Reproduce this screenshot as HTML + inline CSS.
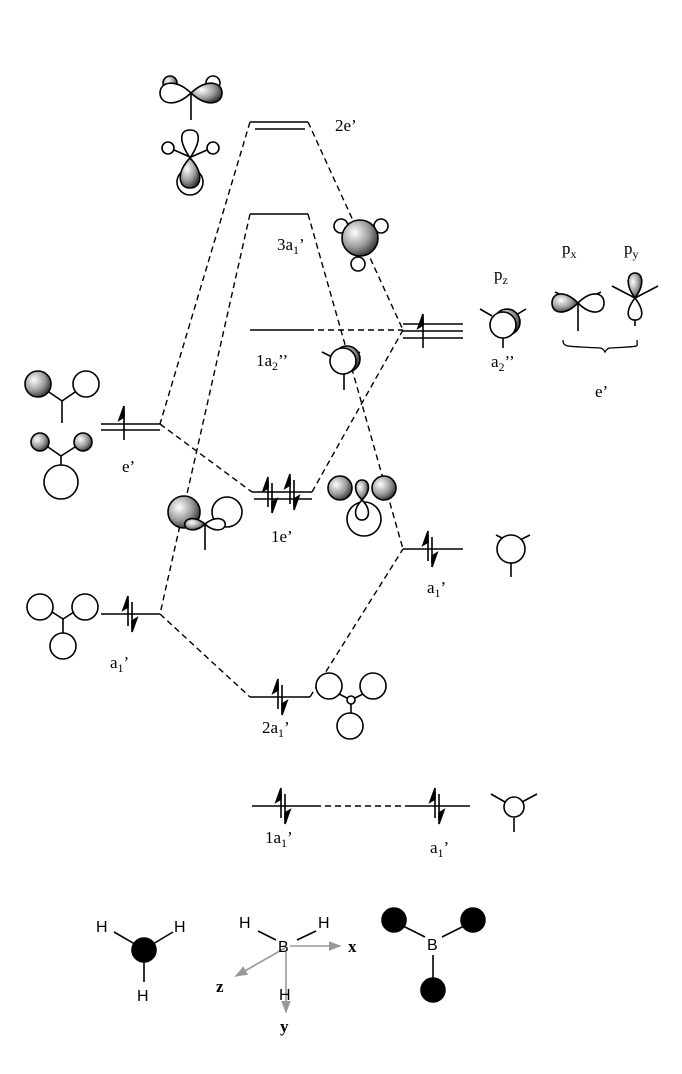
<!DOCTYPE html>
<html><head><meta charset="utf-8"><style>
html,body{margin:0;padding:0;background:#fff}
svg{display:block}
text{font-family:"Liberation Serif",serif;font-size:17px;fill:#000}
.s{font-family:"Liberation Sans",sans-serif;font-size:16px}
</style></head><body>
<svg width="682" height="1074" viewBox="0 0 682 1074" xmlns="http://www.w3.org/2000/svg">
<defs>
<radialGradient id="g" cx="0.35" cy="0.35" r="0.7">
<stop offset="0" stop-color="#fff"/><stop offset="0.6" stop-color="#999"/><stop offset="1" stop-color="#333"/>
</radialGradient>
<marker id="ar" markerWidth="8" markerHeight="8" refX="7" refY="4" orient="auto"><path d="M0,1 L8,4 L0,7 Z" fill="#999"/></marker>
<g id="pr" stroke="#000" stroke-width="1.6" fill="#000"><line x1="0" y1="-14" x2="0" y2="12"/><path d="M0,-18 L-5,-4 L0,-7 Z"/><line x1="4" y1="-12" x2="4" y2="14"/><path d="M4,18 L9,4 L4,7 Z"/></g>
</defs>
<g stroke="#000" stroke-width="1.6" fill="none">
<line x1="250" y1="122" x2="308" y2="122"/><line x1="255" y1="129" x2="305" y2="129"/>
<line x1="250" y1="214" x2="308" y2="214"/>
<line x1="250" y1="330" x2="308" y2="330"/>
<line x1="403" y1="324" x2="463" y2="324"/><line x1="403" y1="331" x2="463" y2="331"/><line x1="403" y1="338" x2="463" y2="338"/>
<line x1="101" y1="424" x2="160" y2="424"/><line x1="101" y1="430" x2="160" y2="430"/>
<line x1="252" y1="492" x2="312" y2="492"/><line x1="254" y1="499" x2="312" y2="499"/>
<line x1="403" y1="549" x2="463" y2="549"/>
<line x1="101" y1="614" x2="160" y2="614"/>
<line x1="250" y1="697" x2="310" y2="697"/>
<line x1="252" y1="806" x2="315" y2="806"/>
<line x1="410" y1="806" x2="470" y2="806"/>
</g>
<g stroke="#000" stroke-width="1.4" fill="none" stroke-dasharray="6,4">
<line x1="250" y1="122" x2="160" y2="424"/>
<line x1="308" y1="122" x2="403" y2="330"/>
<line x1="250" y1="214" x2="160" y2="614"/>
<line x1="308" y1="214" x2="403" y2="549"/>
<line x1="308" y1="330" x2="403" y2="330"/>
<line x1="160" y1="424" x2="252" y2="492"/>
<line x1="312" y1="492" x2="403" y2="330"/>
<line x1="160" y1="614" x2="250" y2="697"/>
<line x1="310" y1="697" x2="403" y2="549"/>
<line x1="315" y1="806" x2="410" y2="806"/>
</g>
<g stroke="#000" stroke-width="1.6" fill="#000">
<line x1="423" y1="318" x2="423" y2="348"/><path d="M423,314 L418,328 L423,325 Z"/>
<line x1="124" y1="410" x2="124" y2="440"/><path d="M124,406 L119,420 L124,417 Z"/>
</g>
<use href="#pr" x="268" y="495"/><use href="#pr" x="290" y="492"/>
<use href="#pr" x="428" y="549"/><use href="#pr" x="128" y="614"/>
<use href="#pr" x="278" y="697"/><use href="#pr" x="281" y="806"/><use href="#pr" x="435" y="806"/>
<text x="335" y="131">2e’</text>
<text x="277" y="250">3a<tspan font-size="12" dy="4">1</tspan><tspan dy="-4">’</tspan></text>
<text x="256" y="366">1a<tspan font-size="12" dy="4">2</tspan><tspan dy="-4">’’</tspan></text>
<text x="122" y="472">e’</text>
<text x="271" y="542">1e’</text>
<text x="427" y="593">a<tspan font-size="12" dy="4">1</tspan><tspan dy="-4">’</tspan></text>
<text x="110" y="668">a<tspan font-size="12" dy="4">1</tspan><tspan dy="-4">’</tspan></text>
<text x="262" y="733">2a<tspan font-size="12" dy="4">1</tspan><tspan dy="-4">’</tspan></text>
<text x="265" y="843">1a<tspan font-size="12" dy="4">1</tspan><tspan dy="-4">’</tspan></text>
<text x="430" y="853">a<tspan font-size="12" dy="4">1</tspan><tspan dy="-4">’</tspan></text>
<text x="494" y="280">p<tspan font-size="12" dy="4">z</tspan></text>
<text x="562" y="254">p<tspan font-size="12" dy="4">x</tspan></text>
<text x="624" y="254">p<tspan font-size="12" dy="4">y</tspan></text>
<text x="491" y="367">a<tspan font-size="12" dy="4">2</tspan><tspan dy="-4">’’</tspan></text>
<text x="595" y="397">e’</text>
<g stroke="#000" stroke-width="1.6">
<circle cx="170" cy="83" r="7" fill="url(#g)"/><circle cx="213" cy="83" r="7" fill="#fff"/>
<path d="M191,93 C175,78 160,82 160,93 C160,104 175,108 191,93 Z" fill="#fff"/>
<path d="M191,93 C207,78 222,82 222,93 C222,104 207,108 191,93 Z" fill="url(#g)"/>
<line x1="191" y1="93" x2="191" y2="120"/>
<circle cx="168" cy="148" r="6" fill="#fff"/><circle cx="213" cy="148" r="6" fill="#fff"/>
<line x1="174" y1="150" x2="190" y2="157"/><line x1="207" y1="150" x2="191" y2="157"/>
<circle cx="190" cy="182" r="13" fill="#fff"/>
<path d="M190,158 C178,140 180,130 190,130 C200,130 202,140 190,158 Z" fill="#fff"/>
<path d="M190,158 C176,172 178,188 190,188 C202,188 204,172 190,158 Z" fill="url(#g)"/>
<circle cx="341" cy="226" r="7" fill="#fff"/><circle cx="381" cy="226" r="7" fill="#fff"/><circle cx="358" cy="264" r="7" fill="#fff"/>
<circle cx="360" cy="238" r="18" fill="url(#g)"/>
<line x1="322" y1="352" x2="332" y2="357"/><line x1="360" y1="352" x2="352" y2="357"/><line x1="344" y1="372" x2="344" y2="390"/>
<circle cx="347" cy="359" r="13" fill="url(#g)"/><circle cx="343" cy="361" r="13" fill="#fff"/>
<line x1="480" y1="309" x2="492" y2="316"/><line x1="526" y1="309" x2="516" y2="315"/><line x1="503" y1="338" x2="503" y2="348"/>
<circle cx="507" cy="322" r="13" fill="url(#g)"/><circle cx="503" cy="325" r="13" fill="#fff"/>
<line x1="555" y1="292" x2="578" y2="303"/><line x1="601" y1="292" x2="578" y2="303"/><line x1="578" y1="303" x2="578" y2="331"/>
<path d="M578,303 C565,290 552,292 552,303 C552,314 565,316 578,303 Z" fill="url(#g)"/>
<path d="M578,303 C591,290 604,292 604,303 C604,314 591,316 578,303 Z" fill="#fff"/>
<line x1="612" y1="286" x2="635" y2="298"/><line x1="658" y1="286" x2="635" y2="298"/><line x1="635" y1="316" x2="635" y2="326"/>
<path d="M635,298 C625,285 627,273 635,273 C643,273 645,285 635,298 Z" fill="url(#g)"/>
<path d="M635,298 C625,311 627,320 635,320 C643,320 645,311 635,298 Z" fill="#fff"/>
<path d="M563,340 C563,348 568,346 600,348 C603,348 605,352 605,352 C605,352 607,348 610,348 C642,346 637,348 637,340" fill="none" stroke-width="1.3"/>
<line x1="62" y1="401" x2="62" y2="423"/><line x1="46" y1="390" x2="62" y2="401"/><line x1="78" y1="390" x2="62" y2="401"/>
<circle cx="38" cy="384" r="13" fill="url(#g)"/><circle cx="86" cy="384" r="13" fill="#fff"/>
<circle cx="40" cy="442" r="9" fill="url(#g)"/><circle cx="83" cy="442" r="9" fill="url(#g)"/>
<line x1="48" y1="447" x2="61" y2="456"/><line x1="75" y1="447" x2="61" y2="456"/><line x1="61" y1="456" x2="61" y2="465"/>
<circle cx="61" cy="482" r="17" fill="#fff"/>
<circle cx="184" cy="512" r="16" fill="url(#g)"/>
<circle cx="227" cy="512" r="15" fill="#fff"/>
<path d="M205,524 C192,514 183,520 185,526 C187,531 197,532 205,524 Z" fill="url(#g)"/>
<path d="M205,524 C218,514 227,520 225,526 C223,531 213,532 205,524 Z" fill="#fff"/>
<line x1="205" y1="524" x2="205" y2="550"/>
<circle cx="364" cy="519" r="17" fill="#fff"/>
<circle cx="340" cy="488" r="12" fill="url(#g)"/><circle cx="384" cy="488" r="12" fill="url(#g)"/>
<path d="M362,500 C352,490 355,480 362,480 C369,480 372,490 362,500 Z" fill="url(#g)"/>
<path d="M362,500 C352,510 355,520 362,520 C369,520 372,510 362,500 Z" fill="#fff"/>
<line x1="496" y1="535" x2="506" y2="540"/><line x1="530" y1="535" x2="520" y2="540"/><line x1="511" y1="563" x2="511" y2="577"/>
<circle cx="511" cy="549" r="14" fill="#fff"/>
<circle cx="40" cy="607" r="13" fill="#fff"/><circle cx="85" cy="607" r="13" fill="#fff"/><circle cx="63" cy="646" r="13" fill="#fff"/>
<line x1="52" y1="612" x2="63" y2="619"/><line x1="74" y1="612" x2="63" y2="619"/><line x1="63" y1="619" x2="63" y2="633"/>
<circle cx="329" cy="686" r="13" fill="#fff"/><circle cx="373" cy="686" r="13" fill="#fff"/><circle cx="350" cy="726" r="13" fill="#fff"/>
<circle cx="351" cy="700" r="4" fill="#fff"/>
<line x1="339" y1="694" x2="347" y2="698"/><line x1="363" y1="694" x2="355" y2="698"/><line x1="351" y1="704" x2="351" y2="713"/>
<line x1="491" y1="794" x2="505" y2="802"/><line x1="537" y1="794" x2="522" y2="802"/><line x1="514" y1="818" x2="514" y2="832"/>
<circle cx="514" cy="807" r="10" fill="#fff"/>
<circle cx="144" cy="950" r="12" fill="#000"/>
<line x1="114" y1="932" x2="140" y2="947"/><line x1="173" y1="932" x2="148" y2="947"/><line x1="144" y1="960" x2="144" y2="982"/>
<line x1="258" y1="931" x2="276" y2="940"/><line x1="316" y1="931" x2="297" y2="940"/>
<circle cx="394" cy="920" r="12" fill="#000"/><circle cx="473" cy="920" r="12" fill="#000"/><circle cx="433" cy="990" r="12" fill="#000"/>
<line x1="403" y1="926" x2="425" y2="937"/><line x1="464" y1="926" x2="442" y2="937"/><line x1="433" y1="955" x2="433" y2="980"/>
</g>
<g stroke="#999" stroke-width="1.6" fill="none">
<line x1="290" y1="946" x2="340" y2="946" marker-end="url(#ar)"/>
<line x1="285" y1="948" x2="236" y2="976" marker-end="url(#ar)"/>
<line x1="286" y1="952" x2="286" y2="1012" marker-end="url(#ar)"/>
</g>
<text class="s" x="96" y="932">H</text><text class="s" x="174" y="932">H</text><text class="s" x="137" y="1001">H</text>
<text class="s" x="239" y="928">H</text><text class="s" x="318" y="928">H</text>
<text class="s" x="278" y="952">B</text><text class="s" x="279" y="1000">H</text>
<text class="s" x="427" y="950">B</text>
<text x="348" y="952" font-weight="bold">x</text>
<text x="216" y="992" font-weight="bold">z</text>
<text x="280" y="1032" font-weight="bold">y</text>
</svg>
</body></html>
